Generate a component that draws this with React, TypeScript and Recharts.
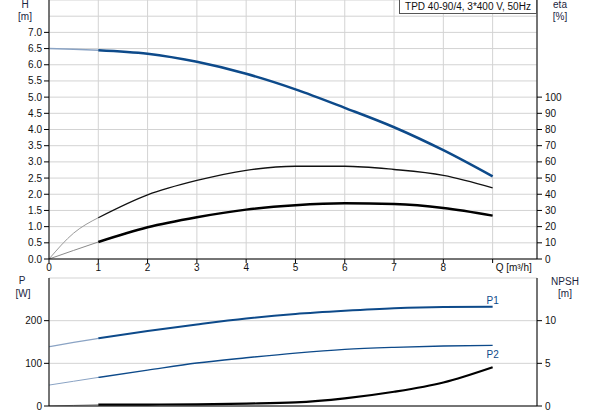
import React from 'react';
import { ComposedChart, Line, XAxis, YAxis, CartesianGrid } from 'recharts';

// flow points [m³/h]
const flow = [0, 0.5, 1, 2, 3, 4, 5, 6, 7, 8, 9];
// head [m]
const head = [6.5, 6.48, 6.45, 6.34, 6.09, 5.72, 5.24, 4.67, 4.07, 3.36, 2.55];
// pump efficiency [%]
const etaPump = [0, 16, 25.5, 39.6, 48.5, 54.8, 57.3, 57.3, 55.3, 51.7, 44];
// total efficiency [%]
const etaTotal = [0, 5.3, 10.5, 19.6, 25.8, 30.5, 33.2, 34.4, 33.9, 31.5, 26.8];
// power input [W]
const powerP1 = [139, 149, 158.5, 175.6, 191, 205, 215.5, 223, 229, 232, 232.6];
const powerP2 = [49, 58, 67, 84, 100.7, 113, 124, 132.7, 137.5, 140.5, 142];
// NPSH [m]
const npsh = [0, 0.07, 0.15, 0.17, 0.2, 0.28, 0.42, 0.9, 1.67, 2.76, 4.55];

const qTicks = [0, 1, 2, 3, 4, 5, 6, 7, 8, 9];
// grid lines every 0.5 m up to 8.0, labels only up to 7.0
const hTicks = [0, 0.5, 1, 1.5, 2, 2.5, 3, 3.5, 4, 4.5, 5, 5.5, 6, 6.5, 7, 7.5, 8];
const hLabelMax = 7;
const etaTicks = [0, 10, 20, 30, 40, 50, 60, 70, 80, 90, 100];
const pTicks = [0, 100, 200];
const npshTicks = [0, 5, 10];

const split = (vals: number[]) => ({
  lead: flow.map((q, i) => (q <= 1 ? vals[i] : null)),
  main: flow.map((q, i) => (q >= 1 ? vals[i] : null)),
});

const hS = split(head);
const eS = split(etaPump);
const tS = split(etaTotal);
const p1S = split(powerP1);
const p2S = split(powerP2);
const nS = split(npsh);

const topData = flow.map((q, i) => ({
  q,
  hLead: hS.lead[i], hMain: hS.main[i],
  eLead: eS.lead[i], eMain: eS.main[i],
  tLead: tS.lead[i], tMain: tS.main[i],
}));

const bottomData = flow.map((q, i) => ({
  q,
  p1Lead: p1S.lead[i], p1Main: p1S.main[i],
  p2Lead: p2S.lead[i], p2Main: p2S.main[i],
  nLead: nS.lead[i], nMain: nS.main[i],
}));

const FONT = '"Liberation Sans", Arial, sans-serif';
const BLUE = '#0d4a8a';
const tickStyle = { fontSize: 10, fill: '#111', fontFamily: FONT };

const QTick = (props: any) => {
  const { x, y, payload } = props;
  const last = payload.value === 9;
  return (
    <text x={last ? x + 3 : x} y={y} dy="0.71em" textAnchor={last ? 'start' : 'middle'} style={tickStyle}>
      {last ? 'Q [m³/h]' : payload.value}
    </text>
  );
};

// H ticks: own tick mark, nothing drawn above 7.0
const HTick = (props: any) => {
  const { x, y, payload } = props;
  if (payload.value > hLabelMax) return null;
  return (
    <g>
      <line x1={x + 2} x2={x + 7} y1={y} y2={y} stroke="#000" />
      <text x={x} y={y} dy="0.355em" textAnchor="end" style={tickStyle}>
        {payload.value.toFixed(1)}
      </text>
    </g>
  );
};

const endLabel = (text: string, dy: number) => (props: any) => {
  const { x, y, index } = props;
  if (index !== flow.length - 1) return null;
  return (
    <text x={x} y={y + dy} textAnchor="middle" fontSize={10} fontFamily={FONT} fill={BLUE}>
      {text}
    </text>
  );
};

const title = (text: string, left: number, top: number) => (
  <div style={{ position: 'absolute', left: left - 30, top, width: 60, textAlign: 'center', fontSize: 10, fontFamily: FONT, color: '#1a2540', lineHeight: '12px' }}>
    {text}
  </div>
);

export default function App() {
  return (
    <div style={{ position: 'absolute', left: 0, top: 0, width: 593, height: 415, background: '#fff', overflow: 'hidden' }}>
      <div style={{ position: 'absolute', left: 0, top: 0 }}>
        <ComposedChart width={593} height={276} data={topData} margin={{ top: 0, right: 0, left: 0, bottom: 0 }}>
          <CartesianGrid stroke="#d3d3d3" />
          <XAxis dataKey="q" type="number" domain={[0, 9.9]} ticks={qTicks} interval={0} height={17} allowDataOverflow
            stroke="#000" tickSize={4} tickMargin={1} tick={<QTick />} />
          <YAxis orientation="left" width={49} domain={[0, 8]} ticks={hTicks} interval={0} allowDataOverflow
            stroke="#000" tickSize={5} tickMargin={2} tickLine={false} tick={<HTick />} />
          <YAxis yAxisId="eta" orientation="right" width={56} domain={[0, 160]} ticks={etaTicks} interval={0} allowDataOverflow
            stroke="#000" tickSize={5} tickMargin={3} tick={tickStyle} />
          <Line yAxisId="eta" dataKey="eLead" type="monotone" stroke="#9a9a9a" strokeWidth={1} dot={false} isAnimationActive={false} />
          <Line yAxisId="eta" dataKey="eMain" type="monotone" stroke="#111" strokeWidth={1.3} dot={false} isAnimationActive={false} />
          <Line yAxisId="eta" dataKey="tLead" type="monotone" stroke="#8a8a8a" strokeWidth={1} dot={false} isAnimationActive={false} />
          <Line yAxisId="eta" dataKey="tMain" type="monotone" stroke="#000" strokeWidth={2.5} dot={false} isAnimationActive={false} />
          <Line dataKey="hLead" type="monotone" stroke="#8aa3c4" strokeWidth={1.5} dot={false} isAnimationActive={false} />
          <Line dataKey="hMain" type="monotone" stroke={BLUE} strokeWidth={2.5} dot={false} isAnimationActive={false} />
        </ComposedChart>
      </div>
      <div style={{ position: 'absolute', left: 0, top: 270 }}>
        <ComposedChart width={593} height={145} data={bottomData} margin={{ top: 8, right: 0, left: 0, bottom: 0 }}>
          <CartesianGrid stroke="#d3d3d3" />
          <XAxis dataKey="q" type="number" domain={[0, 9.9]} ticks={qTicks} interval={0} height={9} allowDataOverflow
            stroke="#000" tick={false} tickLine={false} />
          <YAxis orientation="left" width={49} domain={[0, 300]} ticks={pTicks} interval={0} allowDataOverflow
            stroke="#000" tickSize={5} tickMargin={2} tick={tickStyle} />
          <YAxis yAxisId="n" orientation="right" width={56} domain={[0, 15]} ticks={npshTicks} interval={0} allowDataOverflow
            stroke="#000" tickSize={5} tickMargin={3} tick={tickStyle} />
          <Line yAxisId="n" dataKey="nLead" type="monotone" stroke="#8a8a8a" strokeWidth={1} dot={false} isAnimationActive={false} />
          <Line yAxisId="n" dataKey="nMain" type="monotone" stroke="#000" strokeWidth={2.2} dot={false} isAnimationActive={false} />
          <Line dataKey="p2Lead" type="monotone" stroke="#8aa3c4" strokeWidth={1} dot={false} isAnimationActive={false} />
          <Line dataKey="p2Main" type="monotone" stroke={BLUE} strokeWidth={1.4} dot={false} isAnimationActive={false}
            label={endLabel('P2', 13)} />
          <Line dataKey="p1Lead" type="monotone" stroke="#8aa3c4" strokeWidth={1.3} dot={false} isAnimationActive={false} />
          <Line dataKey="p1Main" type="monotone" stroke={BLUE} strokeWidth={2} dot={false} isAnimationActive={false}
            label={endLabel('P1', -3)} />
        </ComposedChart>
      </div>
      {title('H', 25, -1)}
      {title('[m]', 25, 11)}
      {title('eta', 560, -1)}
      {title('[%]', 560, 11)}
      {title('P', 22, 275)}
      {title('[W]', 23, 288)}
      {title('NPSH', 565, 276)}
      {title('[m]', 565, 288)}
      <div style={{ position: 'absolute', left: 399, top: -1, width: 136, height: 13, border: '1px solid #555', background: '#fff',
        fontSize: 10, fontFamily: FONT, color: '#111', lineHeight: '13px', textAlign: 'center', whiteSpace: 'nowrap' }}>
        TPD 40-90/4, 3*400 V, 50Hz
      </div>
    </div>
  );
}
